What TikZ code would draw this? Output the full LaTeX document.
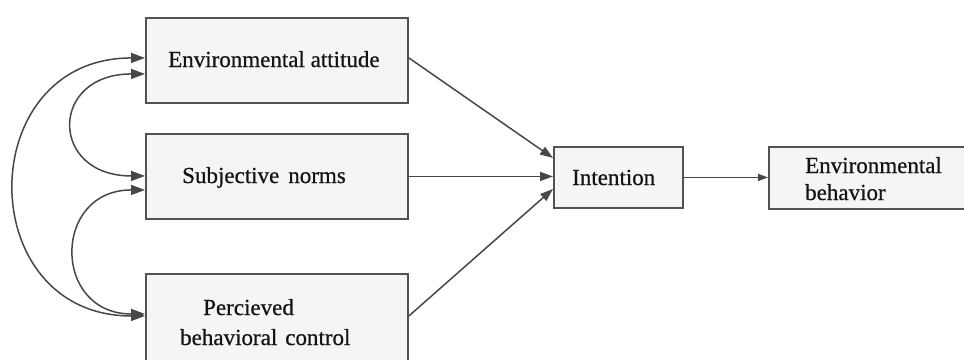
\documentclass[tikz,border=0pt]{standalone}
\usepackage{fontspec}
\setmainfont{Liberation Serif}
\newfontfamily\lblfont{Liberation Serif}[FakeBold=0.6]
\usetikzlibrary{arrows.meta}
\begin{document}
\begin{tikzpicture}[x=1pt,y=-1pt,
  box/.style={draw=black!68, line width=1.9pt, fill=black!4, inner sep=0pt, anchor=north west},
  lbl/.style={anchor=base west, inner sep=0pt, font=\lblfont\fontsize{23}{27}\selectfont, text=black!92},
  conn/.style={draw=black!72, line width=1.5pt, -{Triangle[length=13pt,width=9pt]}},
  both/.style={draw=black!72, line width=1.5pt, {Triangle[length=14pt,width=10pt]}-{Triangle[length=14pt,width=10pt]}}
]
\useasboundingbox (0,0) rectangle (964,359);
\fill[white] (0,0) rectangle (964,359);
% boxes
\node[box, minimum width=262pt, minimum height=85pt] (ea) at (145,17) {};
\node[box, minimum width=262pt, minimum height=85pt] (sn) at (145,133) {};
\node[box, minimum width=262pt, minimum height=89pt] (pbc) at (145,273) {};
\node[box, minimum width=129pt, minimum height=61pt] (int) at (553,146) {};
\node[box, minimum width=200pt, minimum height=62pt] (eb) at (768,146) {};
% labels
\node[lbl] (tea) at (168,67) {Environmental attitude};
\node[lbl] (tsn) at (182,183) {Subjective\hspace{9pt}norms};
\node[lbl] (tpb1) at (203,315) {Percieved};
\node[lbl] (tpb2) at (180,345) {behavioral\hspace{8pt}control};
\node[lbl] (tint) at (572,185) {Intention};
\node[lbl] (teb1) at (805,173) {Environmental};
\node[lbl] (teb2) at (805,200) {behavior};
% correlations
\draw[both] ([yshift=2.5pt]ea.west) .. controls +(-173,0) and +(-173,0) .. ([yshift=2.5pt]pbc.west);
\draw[both] ([yshift=-13.5pt]ea.west) .. controls +(-96,0) and +(-96,0) .. ([yshift=0.5pt]sn.west);
\draw[both] ([yshift=-13.5pt]sn.west) .. controls +(-93,0) and +(-93,0) .. ([yshift=4.5pt]pbc.west);
% paths
\draw[conn] ([yshift=2.5pt]ea.east) -- ([yshift=19.5pt]int.west);
\draw[conn] (sn.east) -- (sn.east -| int.west);
\draw[conn] ([yshift=2.5pt]pbc.east) -- ([yshift=-11.5pt]int.west);
\draw[conn, -{Triangle[length=10pt,width=7pt]}] (int.east) -- (int.east -| eb.west);
\end{tikzpicture}
\end{document}
